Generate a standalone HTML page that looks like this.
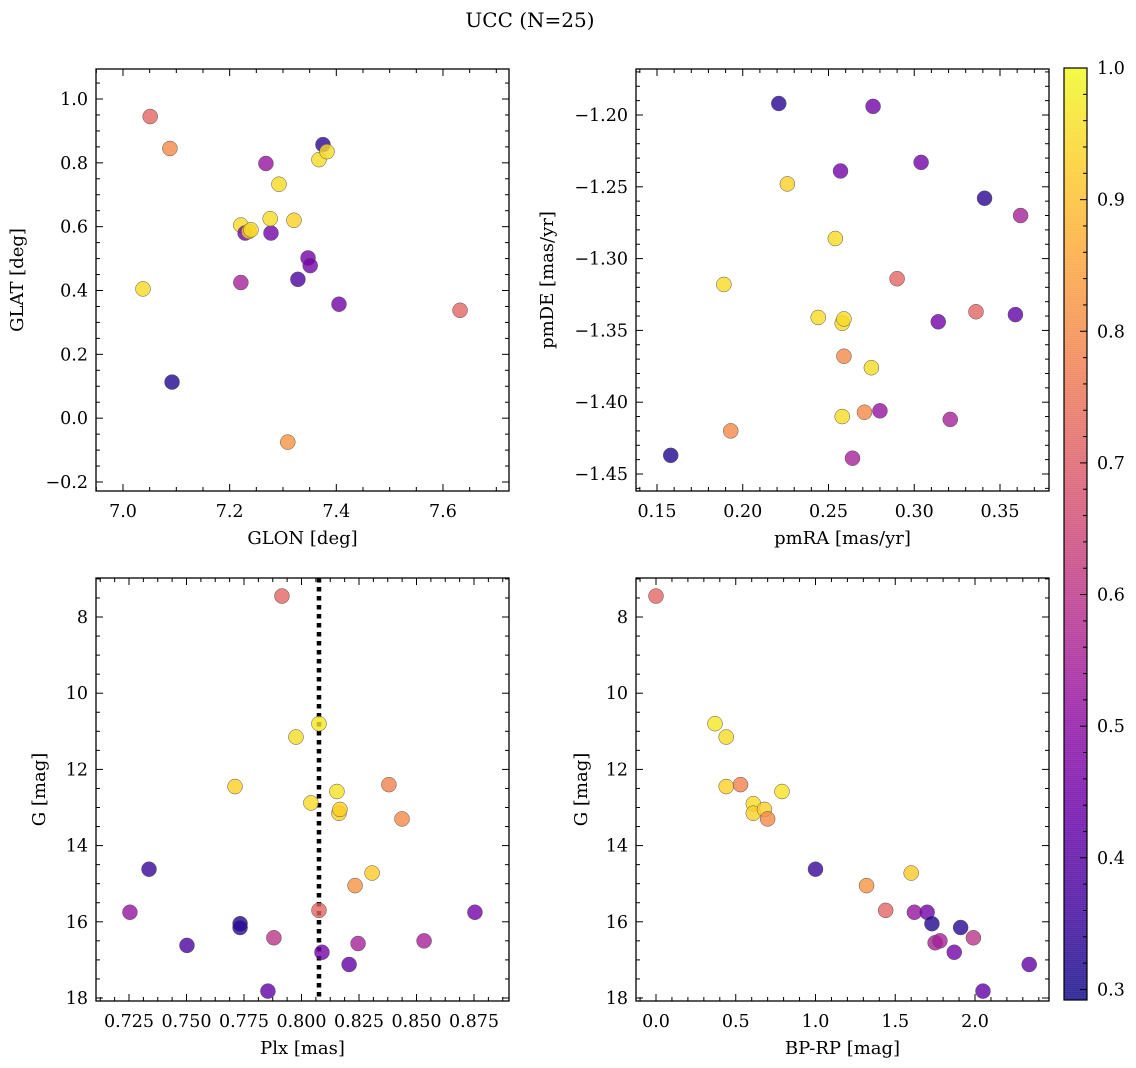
<!DOCTYPE html>
<html><head><meta charset="utf-8"><style>
body{margin:0;background:#fff;}
svg{display:block;font-family:"DejaVu Serif","Liberation Serif",serif;}
</style></head><body>
<svg id="fig" width="1136" height="1068" viewBox="0 0 1136 1068" xmlns="http://www.w3.org/2000/svg">
<text x="530" y="27" font-size="20" text-anchor="middle">UCC (N=25)</text>
</svg>
<script>
// Panel 1: GLON vs GLAT
const p1X=[7.051,7.088,7.0375,7.092,7.221,7.229,7.221,7.236,7.240,7.268,7.2775,7.276,7.2925,7.309,7.3206,7.328,7.347,7.351,7.3675,7.375,7.3825,7.405,7.632];
const p1Y=[0.945,0.845,0.405,0.113,0.605,0.580,0.425,0.585,0.590,0.798,0.580,0.625,0.733,-0.075,0.620,0.435,0.502,0.478,0.810,0.857,0.835,0.357,0.338];
const p1P=[0.72,0.80,0.95,0.32,0.95,0.45,0.55,0.93,0.95,0.52,0.45,0.95,0.95,0.82,0.93,0.38,0.45,0.45,0.95,0.33,0.95,0.45,0.72];
// Panel 2: pmRA vs pmDE
const p2X=[0.221,0.276,0.304,0.257,0.226,0.341,0.362,0.254,0.290,0.189,0.244,0.258,0.259,0.314,0.336,0.359,0.259,0.275,0.193,0.258,0.271,0.280,0.321,0.158,0.264];
const p2Y=[-1.192,-1.194,-1.233,-1.239,-1.248,-1.258,-1.270,-1.286,-1.314,-1.318,-1.341,-1.345,-1.342,-1.344,-1.337,-1.339,-1.368,-1.376,-1.420,-1.410,-1.407,-1.406,-1.412,-1.437,-1.439];
const p2P=[0.33,0.45,0.45,0.45,0.93,0.33,0.55,0.95,0.72,0.95,0.95,0.95,0.95,0.45,0.72,0.42,0.80,0.95,0.80,0.95,0.80,0.52,0.55,0.32,0.55];
// Panel 3: Plx vs G
const p3X=[0.7915,0.8076,0.7976,0.7711,0.8380,0.8041,0.8163,0.8167,0.8437,0.8154,0.7337,0.8233,0.8307,0.8076,0.7254,0.8754,0.7733,0.7733,0.7880,0.8246,0.8533,0.7502,0.8089,0.8207,0.7854];
const p3Y=[7.45,10.8,11.15,12.45,12.4,12.88,13.15,13.05,13.3,12.58,14.62,15.05,14.72,15.7,15.75,15.75,16.05,16.15,16.42,16.57,16.5,16.62,16.8,17.12,17.82];
const p3P=[0.72,0.97,0.95,0.93,0.78,0.95,0.93,0.93,0.80,0.96,0.35,0.82,0.92,0.72,0.52,0.45,0.32,0.33,0.60,0.55,0.55,0.38,0.45,0.42,0.42];
// Panel 4: BP-RP vs G
const p4X=[0.0,0.37,0.44,0.44,0.53,0.61,0.61,0.68,0.70,0.79,1.0,1.32,1.60,1.44,1.62,1.70,1.73,1.91,1.75,1.78,1.99,1.87,2.34,2.05];
const p4Y=[7.45,10.8,11.15,12.45,12.4,12.9,13.15,13.05,13.3,12.58,14.62,15.05,14.72,15.7,15.75,15.75,16.05,16.15,16.55,16.5,16.42,16.8,17.12,17.82];
const p4P=[0.72,0.97,0.95,0.93,0.78,0.95,0.93,0.93,0.80,0.96,0.35,0.82,0.92,0.72,0.52,0.45,0.32,0.33,0.55,0.55,0.60,0.45,0.42,0.42];
const plxLine=[0.8076];
const cbTicks=[0.3,0.4,0.5,0.6,0.7,0.8,0.9,1.0];

const NS="http://www.w3.org/2000/svg";
const svg=document.getElementById('fig');
const VMIN=0.292,VMAX=1.0;
const stops=[[13,8,135],[65,4,157],[106,0,168],[143,13,164],[177,42,144],[204,71,120],[225,100,98],[242,132,75],[252,166,54],[252,206,37],[240,249,33]];
function plasma(t){t=Math.max(0,Math.min(1,t));const f=t*10,i=Math.min(9,Math.floor(f)),r=f-i;
const a=stops[i],b=stops[i+1];return `rgb(${a.map((v,k)=>Math.round(v+(b[k]-v)*r)).join(',')})`;}
function cmap(p){return plasma((p-VMIN)/(VMAX-VMIN));}
function el(tag,attrs,parent){const e=document.createElementNS(NS,tag);for(const k in attrs)e.setAttribute(k,attrs[k]);(parent||svg).appendChild(e);return e;}
function fmt(v,d){const s=Math.abs(v).toFixed(d);return (v<-1e-9?'\u2212':'')+s;}

function panel(o){
  const g=el('g',{});
  
  
  const sx=v=>o.L+(v-o.x0)/(o.x1-o.x0)*(o.R-o.L);
  const sy=v=>o.B-(v-o.y0)/(o.y1-o.y0)*(o.B-o.T);
  const ticks=(a,b,step,div)=>{const maj=[],min=[];const s0=Math.ceil(a/step-1e-6);for(let k=s0;k*step<=b+1e-9;k++)maj.push(+(k*step).toFixed(6));
    const ms=step/div;const m0=Math.ceil(a/ms-1e-6);for(let k=m0;k*ms<=b+1e-9;k++){const v=k*ms;if(Math.abs(v/step-Math.round(v/step))>1e-6)min.push(v);}return [maj,min];};
  const [xM,xm]=ticks(Math.min(o.x0,o.x1),Math.max(o.x0,o.x1),o.xs,o.xdiv);
  const [yM,ym]=ticks(Math.min(o.y0,o.y1),Math.max(o.y0,o.y1),o.ys,o.ydiv);
  const tk=el('g',{stroke:'#000','stroke-width':1},g);
  
  
  xM.forEach(v=>{const x=sx(v);el('line',{x1:x,x2:x,y1:o.B,y2:o.B-7},tk);el('line',{x1:x,x2:x,y1:o.T,y2:o.T+7},tk);
    const t=el('text',{x:x,y:o.B+26,'font-size':17.5,'text-anchor':'middle'},g);t.textContent=fmt(v,o.xd);
    });
  xm.forEach(v=>{const x=sx(v);el('line',{x1:x,x2:x,y1:o.B,y2:o.B-4},tk);el('line',{x1:x,x2:x,y1:o.T,y2:o.T+4},tk);});
  yM.forEach(v=>{const y=sy(v);el('line',{x1:o.L,x2:o.L+7,y1:y,y2:y},tk);el('line',{x1:o.R,x2:o.R-7,y1:y,y2:y},tk);
    const t=el('text',{x:o.L-8,y:y+6,'font-size':17.5,'text-anchor':'end'},g);t.textContent=fmt(v,o.yd);
    });
  ym.forEach(v=>{const y=sy(v);el('line',{x1:o.L,x2:o.L+4,y1:y,y2:y},tk);el('line',{x1:o.R,x2:o.R-4,y1:y,y2:y},tk);});
  if(o.vline){o.vline.forEach(v=>{const l=el('line',{x1:sx(v),x2:sx(v),y1:o.T,y2:o.B,stroke:'#000','stroke-width':4.5,'stroke-dasharray':'4.5,4.5'},g);
    });}
  o.X.forEach((v,i)=>{const c=el('circle',{cx:sx(v),cy:sy(o.Y[i]),r:7.5,fill:cmap(o.P[i]),'fill-opacity':0.8,stroke:'#555','stroke-width':0.5},g);
    });
  const fr=el('rect',{x:o.L,y:o.T,width:o.R-o.L,height:o.B-o.T,fill:'none',stroke:'#000','stroke-width':1.3},g);
  
  const xl=el('text',{x:(o.L+o.R)/2,y:o.B+53,'font-size':18,'text-anchor':'middle'},g);xl.textContent=o.xl;
  
  const yl=el('text',{x:o.ylx,y:(o.T+o.B)/2,'font-size':18,'text-anchor':'middle',transform:`rotate(-90 ${o.ylx} ${(o.T+o.B)/2})`},g);yl.textContent=o.yl;
  
}
panel({name:'glon-glat-panel',L:96,R:509,T:69,B:491,x0:6.9494,x1:7.7238,y0:-0.2282,y1:1.094,xs:0.2,xdiv:4,ys:0.2,ydiv:4,xd:1,yd:1,X:p1X,Y:p1Y,P:p1P,xl:'GLON [deg]',yl:'GLAT [deg]',ylx:23});
panel({name:'pm-panel',L:636,R:1049,T:69,B:491,x0:0.13776,x1:0.37857,y0:-1.46184,y1:-1.16797,xs:0.05,xdiv:5,ys:0.05,ydiv:5,xd:2,yd:2,X:p2X,Y:p2Y,P:p2P,xl:'pmRA [mas/yr]',yl:'pmDE [mas/yr]',ylx:553});
panel({name:'plx-g-panel',L:96,R:509,T:578,B:1001,x0:0.71065,x1:0.89022,y0:18.079,y1:6.976,xs:0.025,xdiv:4,ys:2,ydiv:4,xd:3,yd:0,X:p3X,Y:p3Y,P:p3P,xl:'Plx [mas]',yl:'G [mag]',ylx:45,vline:plxLine});
panel({name:'cmd-panel',L:636,R:1049,T:578,B:1001,x0:-0.1254,x1:2.464,y0:18.079,y1:6.976,xs:0.5,xdiv:5,ys:2,ydiv:4,xd:1,yd:0,X:p4X,Y:p4Y,P:p4P,xl:'BP-RP [mag]',yl:'G [mag]',ylx:587});

// colorbar
const cb=el('g',{});


const CT=68,CB=1000,CL=1064,CR=1087;
const cy=v=>CB-(v-VMIN)/(VMAX-VMIN)*(CB-CT);
for(let y=CT;y<CB;y+=2){const v=VMAX-(y-CT+1)/(CB-CT)*(VMAX-VMIN);el('rect',{x:CL,y:y,width:CR-CL,height:2.3,fill:cmap(v),'fill-opacity':0.8},cb);}
el('rect',{x:CL,y:CT,width:CR-CL,height:CB-CT,fill:'none',stroke:'#000','stroke-width':1.2},cb);
cbTicks.forEach(v=>{const y=cy(v);el('line',{x1:CR,x2:CR-7,y1:y,y2:y,stroke:'#000'},cb);
  const t=el('text',{x:CR+10,y:y+6,'font-size':17.5},cb);t.textContent=v.toFixed(1);
  });
for(let v=0.3;v<=1.0001;v+=0.02){if(Math.abs(v*10-Math.round(v*10))>1e-6){const y=cy(v);el('line',{x1:CR,x2:CR-4,y1:y,y2:y,stroke:'#000'},cb);}}
</script>
</body></html>
